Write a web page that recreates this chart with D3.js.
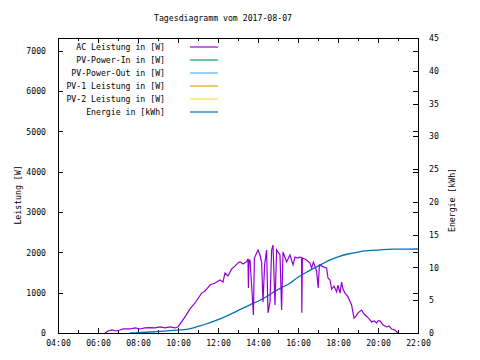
<!DOCTYPE html>
<html>
<head>
<meta charset="utf-8">
<script src="https://cdn.jsdelivr.net/npm/d3@7"></script>
<style>
  body { margin: 0; background: #fff; }
  svg { display: block; }
  text { font-family: "DejaVu Sans Mono", monospace; font-size: 8.2px; fill: #000; }
</style>
</head>
<body>
<svg id="chart" width="480" height="360"></svg>
<script>
// Tagesdiagramm - Werte
const titel = "Tagesdiagramm vom 2017-08-07";

// AC Leistung: Uhrzeit (Stunden) und Leistung (W)
const acZeit = [6.35, 6.5, 6.7, 6.9, 7.1, 7.25, 7.6, 7.85, 8.1, 8.35, 8.6, 8.85, 9.1, 9.35, 9.6, 9.85, 10.0,
  10.35, 10.6, 10.85, 11.18, 11.35, 11.6, 11.85, 12.1, 12.25, 12.35, 12.5, 12.68, 12.85, 13.0, 13.1, 13.25,
  13.43, 13.5, 13.52, 13.55, 13.6, 13.68, 13.77, 13.82, 14.0, 14.1, 14.18, 14.25, 14.33, 14.43, 14.5, 14.6,
  14.68, 14.75, 14.85, 14.93, 15.1, 15.18, 15.25, 15.43, 15.6, 15.75, 15.85, 16.0, 16.1, 16.18, 16.19, 16.22,
  16.43, 16.6, 16.68, 16.77, 16.93, 17.01, 17.07, 17.27, 17.43, 17.5, 17.6, 17.68, 17.8, 17.93, 18.0, 18.1,
  18.18, 18.25, 18.35, 18.5, 18.68, 18.8, 18.9, 19.0, 19.18, 19.3, 19.52, 19.68, 19.8, 19.93, 20.0, 20.1,
  20.25, 20.43, 20.55, 20.68, 20.85, 21.0];
const acLeistung = [0, 50, 75, 50, 75, 100, 100, 125, 100, 125, 135, 125, 150, 125, 150, 125, 150,
  400, 600, 745, 990, 1040, 1190, 1240, 1315, 1265, 1490, 1415, 1590, 1660, 1740, 1770, 1710,
  1770, 1840, 1120, 1810, 1810, 1190, 450, 1860, 2060, 1935, 1760, 770, 1690, 2060, 500, 770,
  2060, 2180, 695, 2060, 1935, 570, 2010, 1760, 1935, 1690, 1885, 1860, 1885, 1860, 500, 1860,
  1810, 1735, 1615, 1760, 1540, 1120, 1690, 1640, 1615, 1365, 1315, 1090, 1165, 1020, 1190, 990,
  1265, 1090, 990, 895, 695, 370, 420, 500, 570, 470, 370, 275, 300, 250, 300, 300,
  200, 150, 175, 100, 75, 0];

// Energie: Uhrzeit (Stunden) und kWh
const energieZeit = [7.6, 8.6, 9.6, 10.0, 10.43, 11.25, 12.1, 12.93, 13.6, 14.1, 15.1, 15.6, 16.0, 16.5,
  17.0, 17.5, 18.0, 18.5, 19.0, 19.5, 20.1, 20.7, 22.0];
const energieKWh = [0, 0.15, 0.35, 0.45, 0.56, 1.22, 2.14, 3.3, 4.3, 5.0, 6.8, 7.6, 8.5, 9.4,
  10.2, 11.0, 11.6, 12.05, 12.35, 12.55, 12.68, 12.78, 12.81];

// Legende
const legendeNamen = ["AC Leistung in [W]", "PV-Power-In in [W]", "PV-Power-Out in [W]",
  "PV-1 Leistung in [W]", "PV-2 Leistung in [W]", "Energie in [kWh]"];
const legendeFarben = ["#9400d3", "#009e73", "#56b4e9", "#e69f00", "#f0e442", "#0072b2"];

// Achsen
const xTicks = [4, 6, 8, 10, 12, 14, 16, 18, 20, 22];
const xMinorTicks = [5, 7, 9, 11, 13, 15, 17, 19, 21];
const yTicks = [0, 1000, 2000, 3000, 4000, 5000, 6000, 7000];
const y2Ticks = [0, 5, 10, 15, 20, 25, 30, 35, 40, 45];

const svg = d3.select("#chart");
const links = 58, rechts = 418, oben = 38, unten = 333;

const x = d3.scaleLinear().domain([4, 22]).range([links, rechts]);
const y = d3.scaleLinear().domain([0, 7320]).range([unten, oben]);
const y2 = d3.scaleLinear().domain([0, 45]).range([unten, oben]);

const fmtZeit = h => d3.format("02d")(h) + ":00";

function clean(g) {
  g.select(".domain").remove();
  g.selectAll("line").attr("stroke", "#000").attr("shape-rendering", "crispEdges");
  g.selectAll("text").attr("font-family", null).attr("font-size", null).attr("fill", null);
}

// x-Achse unten
svg.append("g").attr("transform", `translate(0,${unten})`)
  .call(d3.axisBottom(x).tickValues(xTicks).tickFormat(fmtZeit).tickSizeInner(-5).tickSizeOuter(0).tickPadding(7))
  .call(clean);
svg.append("g").attr("transform", `translate(0,${unten})`)
  .call(d3.axisBottom(x).tickValues(xMinorTicks).tickFormat("").tickSizeInner(-3).tickSizeOuter(0))
  .call(clean);
// oben gespiegelt
svg.append("g").attr("transform", `translate(0,${oben})`)
  .call(d3.axisTop(x).tickValues(xTicks).tickFormat("").tickSizeInner(-5).tickSizeOuter(0))
  .call(clean);
svg.append("g").attr("transform", `translate(0,${oben})`)
  .call(d3.axisTop(x).tickValues(xMinorTicks).tickFormat("").tickSizeInner(-3).tickSizeOuter(0))
  .call(clean);

// y links
svg.append("g").attr("transform", `translate(${links},0)`)
  .call(d3.axisLeft(y).tickValues(yTicks).tickFormat(d3.format("d")).tickSizeInner(-5).tickSizeOuter(0).tickPadding(12))
  .call(clean);
// y rechts gespiegelt
svg.append("g").attr("transform", `translate(${rechts},0)`)
  .call(d3.axisRight(y).tickValues(yTicks).tickFormat("").tickSizeInner(-5).tickSizeOuter(0))
  .call(clean);
// y2 rechts
svg.append("g").attr("transform", `translate(${rechts},0)`)
  .call(d3.axisRight(y2).tickValues(y2Ticks).tickFormat(d3.format("d")).tickSizeInner(-5).tickSizeOuter(0).tickPadding(11))
  .call(clean);

// Kurven
const acDaten = acZeit.map((t, i) => [t, acLeistung[i]]);
const energieDaten = energieZeit.map((t, i) => [t, energieKWh[i]]);

svg.append("path")
  .datum(energieDaten)
  .attr("fill", "none")
  .attr("stroke", legendeFarben[5])
  .attr("stroke-width", 1.3)
  .attr("d", d3.line().x(d => x(d[0])).y(d => y2(d[1])).curve(d3.curveMonotoneX));

svg.append("path")
  .datum(acDaten)
  .attr("fill", "none")
  .attr("stroke", legendeFarben[0])
  .attr("stroke-width", 1.2)
  .attr("d", d3.line().x(d => x(d[0])).y(d => y(d[1])));

// Rahmen
svg.append("rect")
  .attr("x", links + 0.5).attr("y", oben + 0.5)
  .attr("width", rechts - links).attr("height", unten - oben)
  .attr("fill", "none").attr("stroke", "#000").attr("shape-rendering", "crispEdges");

// Legende
const leg = svg.append("g");
legendeNamen.forEach((name, i) => {
  const ly = 47 + i * 13;
  leg.append("text").attr("x", 165).attr("y", ly + 3).attr("text-anchor", "end").text(name);
  leg.append("line").attr("x1", 190).attr("x2", 218).attr("y1", ly).attr("y2", ly)
    .attr("stroke", legendeFarben[i]).attr("stroke-width", 1.2);
});

// Titel und Achsenbeschriftungen
svg.append("text").attr("x", 223).attr("y", 21).attr("text-anchor", "middle").text(titel);
svg.append("text").attr("transform", "translate(21,195) rotate(-90)").attr("text-anchor", "middle").text("Leistung [W]");
svg.append("text").attr("transform", "translate(455,200) rotate(-90)").attr("text-anchor", "middle").text("Energie [kWh]");
</script>
</body>
</html>
